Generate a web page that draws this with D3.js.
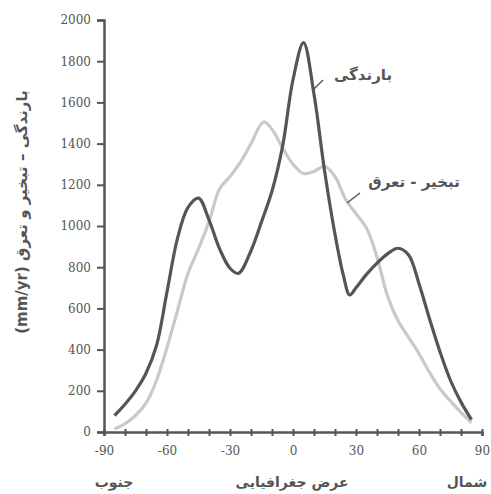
<!DOCTYPE html>
<html>
<head>
<meta charset="utf-8">
<script src="https://cdn.jsdelivr.net/npm/d3@7"></script>
<style>
  body { margin: 0; background: #fff; }
  svg { display: block; }
  .tick text { font-family: "DejaVu Serif", "Liberation Serif", serif; font-size: 12px; }
</style>
</head>
<body>
<script>
// latitude (degrees) and the two series
const precipLat = [-85,-80,-75,-70,-65,-60,-55,-50,-45,-40,-35,-30,-26,-20,-15,-10,-5,0,5,10,15,20,24,27,30,35,40,45,50,55,60,65,70,75,80,85];
const precip = [80,135,200,285,420,680,940,1090,1135,1030,890,795,770,880,1020,1170,1385,1710,1890,1640,1270,960,760,665,700,765,820,865,892,860,720,550,390,250,145,60];
const evapLat = [-85,-80,-75,-70,-65,-60,-55,-50,-45,-40,-35,-30,-25,-20,-14,-10,-5,0,5,10,15,20,25,30,35,40,45,50,55,60,65,70,75,80,85];
const evap = [15,40,80,140,250,410,590,770,890,1020,1180,1240,1310,1400,1505,1470,1380,1300,1255,1265,1290,1240,1130,1060,990,850,660,540,460,380,290,210,150,95,45];
const xTicks = [-90,-60,-30,0,30,60,90];
const yTicks = [0,200,400,600,800,1000,1200,1400,1600,1800,2000];

const W = 491, H = 494;
const svg = d3.select("body").append("svg").attr("width", W).attr("height", H);

const x = d3.scaleLinear().domain([-90, 90]).range([104, 482]);
const y = d3.scaleLinear().domain([0, 2000]).range([432, 20]);

const line = lat => d3.line()
    .x((d, i) => x(lat[i]))
    .y(d => y(d))
    .curve(d3.curveCatmullRom.alpha(0.5));

// light curve first (drawn under)
svg.append("path")
    .attr("d", line(evapLat)(evap))
    .attr("fill", "none")
    .attr("stroke", "#c9c9c9")
    .attr("stroke-width", 3.2);

svg.append("path")
    .attr("d", line(precipLat)(precip))
    .attr("fill", "none")
    .attr("stroke", "#555")
    .attr("stroke-width", 3.2);

// y axis
const ya = svg.append("g")
    .attr("transform", `translate(${x(-90)},0)`)
    .call(d3.axisLeft(y).tickValues(yTicks).tickSize(7).tickPadding(6).tickFormat(d3.format("d")));
// x axis
const xa = svg.append("g")
    .attr("transform", `translate(0,${y(0)})`)
    .call(d3.axisBottom(x).tickValues(d3.range(-90, 91, 10)).tickSize(4).tickPadding(10)
      .tickFormat(d => xTicks.includes(d) ? d : ""));

[ya, xa].forEach(a => {
  a.attr("font-family", null).attr("font-size", null);
  a.select(".domain").attr("stroke", "#555").attr("stroke-width", 2.5);
  a.selectAll(".tick line").attr("stroke", "#555").attr("stroke-width", 2);
  a.selectAll(".tick text").attr("fill", "#555");
});
xa.selectAll(".tick line").attr("y1", -3);

const fa = "'DejaVu Sans', sans-serif";

// y axis title
svg.append("text")
    .attr("transform", "translate(27,212) rotate(-90)")
    .attr("text-anchor", "middle")
    .attr("direction", "rtl")
    .attr("fill", "#555")
    .style("font-family", fa)
    .style("font-size", "15px")
    .style("font-weight", "bold")
    .text("بارندگی – تبخیر و تعرق (mm/yr)");

// x axis titles
const bottom = [["جنوب", 114], ["عرض جغرافیایی", 292], ["شمال", 467]];
bottom.forEach(([t, px]) => {
  svg.append("text")
      .attr("x", px).attr("y", 487)
      .attr("text-anchor", "middle")
      .attr("fill", "#555")
      .style("font-family", fa)
      .style("font-size", "14px")
      .style("font-weight", "bold")
      .text(t);
});

// curve labels with leader lines
const labels = [
  { t: "بارندگی", lx: 363, ly: 80, l: [313, 90, 323, 80] },
  { t: "تبخیر - تعرق", lx: 414, ly: 187, l: [347, 203, 360, 193] }
];
labels.forEach(d => {
  svg.append("text")
      .attr("x", d.lx).attr("y", d.ly)
      .attr("text-anchor", "middle")
      .attr("fill", "#555")
      .style("font-family", fa)
      .style("font-size", "15px")
      .style("font-weight", "bold")
      .text(d.t);
  svg.append("line")
      .attr("x1", d.l[0]).attr("y1", d.l[1]).attr("x2", d.l[2]).attr("y2", d.l[3])
      .attr("stroke", "#555").attr("stroke-width", 1.5);
});
</script>
</body>
</html>
